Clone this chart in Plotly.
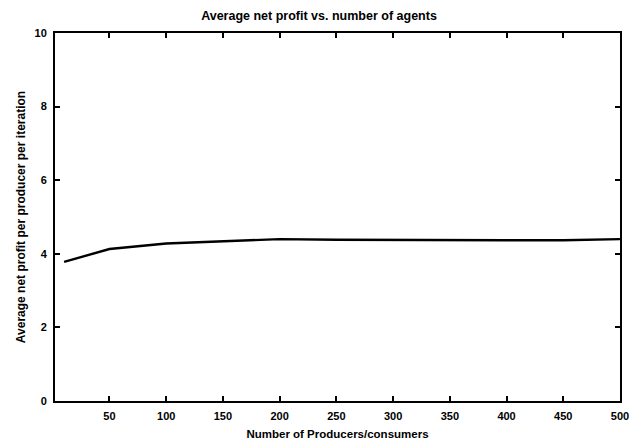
import plotly.graph_objects as go

agents = [10, 50, 100, 150, 200, 250, 300, 350, 400, 450, 500]
profit = [3.78, 4.13, 4.28, 4.35, 4.40, 4.38, 4.37, 4.37, 4.37, 4.37, 4.40]
x_ticks = [50, 100, 150, 200, 250, 300, 350, 400, 450, 500]
y_ticks = [0, 2, 4, 6, 8, 10]

fig = go.Figure()
fig.add_trace(go.Scatter(x=agents, y=profit, mode="lines",
                         line=dict(color="black", width=2.4), showlegend=False))

fam = "Liberation Sans, Arial, sans-serif"
axis_common = dict(showgrid=False, zeroline=False, showline=True, linecolor="black",
                   linewidth=2, mirror="ticks", ticks="inside", ticklen=5,
                   tickwidth=1.5, tickcolor="black", automargin=False,
                   tickfont=dict(family=fam, size=11, color="black"))

fig.update_layout(
    width=638, height=440,
    margin=dict(l=55, r=18, t=33, b=39),
    paper_bgcolor="white", plot_bgcolor="white",
    font=dict(family=fam, size=11, color="black"),
    title=dict(text="<b>Average net profit vs. number of agents</b>", x=0.5, xanchor="center",
               y=1 - 16 / 440, yanchor="middle", font=dict(size=12.5)),
    xaxis=dict(range=[2, 500], tickvals=x_ticks, ticktext=[f"<b>{v}</b>" for v in x_ticks],
               ticklabelstandoff=4,
               title=dict(text="<b>Number of Producers/consumers</b>", standoff=12, font=dict(size=11.5)),
               **axis_common),
    yaxis=dict(range=[0, 10], tickvals=y_ticks, ticktext=[f"<b>{v}</b>" for v in y_ticks],
               ticklabelstandoff=4,
               title=dict(text="<b>Average net profit per producer per iteration</b>", standoff=6, font=dict(size=12)),
               **axis_common),
)

fig.write_html("out.html")
